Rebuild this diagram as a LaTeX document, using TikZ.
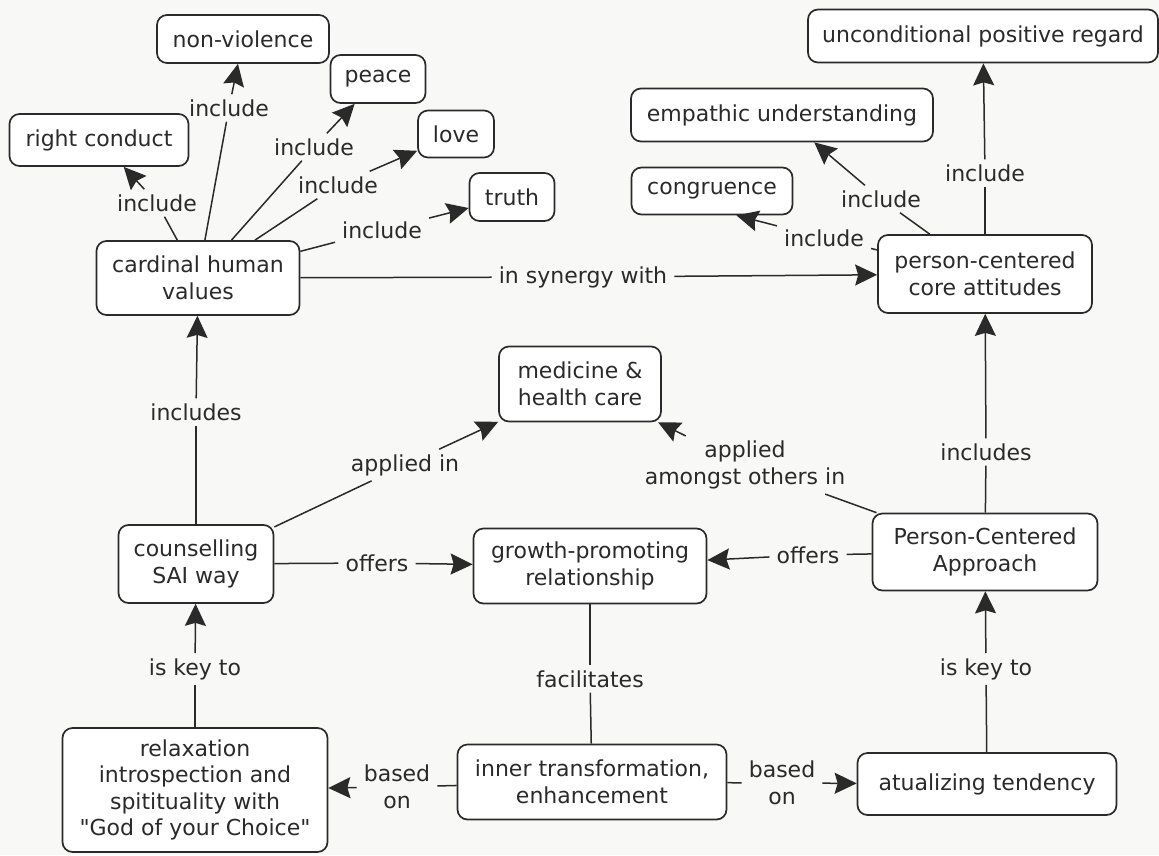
\documentclass[tikz,border=0pt]{standalone}
\usepackage{fontspec}
\setmainfont{DejaVu Sans}
\usetikzlibrary{arrows.meta}
\definecolor{ink}{HTML}{2A2A2A}
\definecolor{bg}{HTML}{F8F8F6}
\newcommand{\sdq}{{\XeTeXglyph\XeTeXcharglyph"22\relax}}
\begin{document}
\begin{tikzpicture}[x=1pt,y=-1pt,
  every node/.style={font=\fontsize{22}{26.5}\selectfont, text=ink},
  box/.style={draw=ink, line width=1.7pt, rounded corners=10pt, align=center, inner sep=2pt, fill=white},
  lbl/.style={inner xsep=7pt, inner ysep=5pt, align=center},
  conn/.style={draw=ink, line width=1.5pt},
  arr/.style={conn, -{Stealth[length=22pt,width=21pt,inset=3pt]}},
]
\fill[bg] (0,0) rectangle (1159,855);
\useasboundingbox (0,0) rectangle (1159,855);

% concepts
\node[box, minimum width=172pt, minimum height=48pt] (nv) at (243,39) {non-violence};
\node[box, minimum width=95pt, minimum height=48pt] (peace) at (378,79) {peace};
\node[box, minimum width=76pt, minimum height=47pt] (love) at (456,134) {love};
\node[box, minimum width=85pt, minimum height=48pt] (truth) at (512,197) {truth};
\node[box, minimum width=179pt, minimum height=52pt] (rc) at (99,140) {right conduct};
\node[box, minimum width=203pt, minimum height=74pt] (chv) at (198,278) {cardinal human\\values};
\node[box, minimum width=350pt, minimum height=53pt] (upr) at (983,36) {unconditional positive regard};
\node[box, minimum width=302pt, minimum height=53pt] (emp) at (782,115) {empathic understanding};
\node[box, minimum width=161pt, minimum height=47pt] (cong) at (712,191) {congruence};
\node[box, minimum width=214pt, minimum height=78pt] (pcc) at (985,274) {person-centered\\core attitudes};
\node[box, minimum width=162pt, minimum height=75pt] (med) at (580,384) {medicine \&\\health care};
\node[box, minimum width=155pt, minimum height=78pt] (csw) at (196,564) {counselling\\SAI way};
\node[box, minimum width=233pt, minimum height=75pt] (grp) at (590,566) {growth-promoting\\relationship};
\node[box, minimum width=225pt, minimum height=77pt] (pca) at (985,552) {Person-Centered\\Approach};
\node[box, minimum width=265pt, minimum height=124pt] (relax) at (195,790) {relaxation\\introspection and\\spitituality with\\\sdq God of your Choice\sdq};
\node[box, minimum width=269pt, minimum height=75pt] (inner) at (592,782) {inner transformation,\\enhancement};
\node[box, minimum width=259pt, minimum height=62pt] (atu) at (987,784) {atualizing tendency};

% linking phrases
\node[lbl] (l-nv) at (229,108) {include};
\node[lbl] (l-rc) at (157,203) {include};
\node[lbl] (l-pe) at (314,147) {include};
\node[lbl] (l-lo) at (338,185) {include};
\node[lbl] (l-tr) at (382,230) {include};
\node[lbl] (l-syn) at (583,277) {in synergy with};
\node[lbl] (l-up) at (985,173) {include};
\node[lbl] (l-em) at (881,199) {include};
\node[lbl] (l-co) at (824,238) {include};
\node[lbl] (l-inc1) at (196,412) {includes};
\node[lbl] (l-inc2) at (986,452) {includes};
\node[lbl] (l-app) at (405,465) {applied in};
\node[lbl] (l-amo) at (745,465) {applied\\amongst others in};
\node[lbl] (l-off1) at (377,563) {offers};
\node[lbl] (l-off2) at (808,555) {offers};
\node[lbl] (l-fac) at (590,679) {facilitates};
\node[lbl] (l-key1) at (195,669) {is key to};
\node[lbl] (l-key2) at (986,669) {is key to};
\node[lbl] (l-bas1) at (397,787) {based\\on};
\node[lbl] (l-bas2) at (782,783) {based\\on};

% connectors
\draw[conn] (chv) -- (l-nv);  \draw[arr] (l-nv) -- (nv);
\draw[conn] (chv) -- (l-rc);  \draw[arr] (l-rc) -- (rc);
\draw[conn] (chv) -- (l-pe);  \draw[arr] (l-pe) -- (peace);
\draw[conn] (chv) -- (l-lo);  \draw[arr] (l-lo) -- (love);
\draw[conn] (chv) -- (l-tr);  \draw[arr] (l-tr) -- (truth);
\draw[conn] (chv) -- (l-syn); \draw[arr] (l-syn) -- (pcc);
\draw[conn] (pcc) -- (l-up);  \draw[arr] (l-up) -- (upr);
\draw[conn] (pcc) -- (l-em);  \draw[arr] (l-em) -- (emp);
\draw[conn] (pcc) -- (l-co);  \draw[arr] (l-co) -- (cong.-45);
\draw[conn] (csw) -- (l-inc1); \draw[arr] (l-inc1) -- (chv);
\draw[conn] (pca) -- (l-inc2); \draw[arr] (l-inc2) -- (pcc);
\draw[conn] (csw) -- (l-app); \draw[arr] (l-app) -- (med);
\draw[conn] (pca) -- (l-amo); \draw[arr] (l-amo) -- (med);
\draw[conn] (csw) -- (l-off1); \draw[arr] (l-off1) -- (grp);
\draw[conn] (pca) -- (l-off2); \draw[arr] (l-off2) -- (grp);
\draw[conn] (grp) -- (l-fac); \draw[conn] (l-fac) -- (inner);
\draw[conn] (relax) -- (l-key1); \draw[arr] (l-key1) -- (csw);
\draw[conn] (atu) -- (l-key2); \draw[arr] (l-key2) -- (pca);
\draw[conn] (inner) -- (l-bas1); \draw[arr] (l-bas1) -- (relax);
\draw[conn] (inner) -- (l-bas2); \draw[arr] (l-bas2) -- (atu);
\end{tikzpicture}
\end{document}
